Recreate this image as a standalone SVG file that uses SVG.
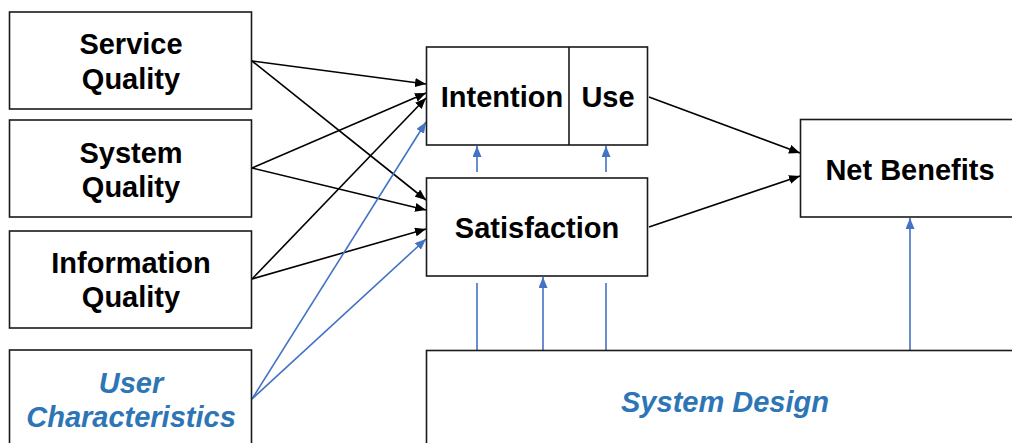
<svg xmlns="http://www.w3.org/2000/svg" width="1012" height="443" viewBox="0 0 1012 443">
<style>
.box{fill:#ffffff;stroke:#1a1a1a;stroke-width:1.6}
.t{font-family:"Liberation Sans",Arial,sans-serif;font-weight:bold;font-size:29px;fill:#000000;text-anchor:middle}
.tb{font-family:"Liberation Sans",Arial,sans-serif;font-weight:bold;font-style:italic;font-size:29px;fill:#2E75B6;text-anchor:middle}
.k{stroke:#000000;stroke-width:1.6;fill:none}
.b{stroke:#4472C4;stroke-width:1.6;fill:none}
</style>
<defs>
<marker id="ak" markerUnits="userSpaceOnUse" markerWidth="11" markerHeight="9" refX="11" refY="4.5" orient="auto">
<path d="M0,0 L11,4.5 L0,9 z" fill="#000000"/>
</marker>
<marker id="ab" markerUnits="userSpaceOnUse" markerWidth="11" markerHeight="9" refX="11" refY="4.5" orient="auto">
<path d="M0,0 L11,4.5 L0,9 z" fill="#4472C4"/>
</marker>
</defs>
<rect width="1012" height="443" fill="#ffffff"/>
<g id="connectors">
<line class="k" x1="252" y1="61" x2="426" y2="84" marker-end="url(#ak)"/>
<line class="k" x1="252" y1="61" x2="426" y2="200" marker-end="url(#ak)"/>
<line class="k" x1="252" y1="168" x2="426" y2="93" marker-end="url(#ak)"/>
<line class="k" x1="252" y1="168" x2="426" y2="210" marker-end="url(#ak)"/>
<line class="k" x1="252" y1="279" x2="426" y2="98" marker-end="url(#ak)"/>
<line class="k" x1="252" y1="279" x2="426" y2="229" marker-end="url(#ak)"/>
<line class="b" x1="252" y1="399" x2="426" y2="122" marker-end="url(#ab)"/>
<line class="b" x1="252" y1="399" x2="426" y2="239" marker-end="url(#ab)"/>
<line class="k" x1="649" y1="97" x2="800" y2="153" marker-end="url(#ak)"/>
<line class="k" x1="649" y1="227" x2="800" y2="176" marker-end="url(#ak)"/>
<line class="b" x1="477" y1="350" x2="477" y2="283"/>
<line class="b" x1="606" y1="350" x2="606" y2="283"/>
<line class="b" x1="477" y1="172" x2="477" y2="146" marker-end="url(#ab)"/>
<line class="b" x1="606" y1="172" x2="606" y2="146" marker-end="url(#ab)"/>
<line class="b" x1="543" y1="350" x2="543" y2="277" marker-end="url(#ab)"/>
<line class="b" x1="910" y1="350" x2="910" y2="218" marker-end="url(#ab)"/>
</g>
<g id="service-quality">
<rect class="box" x="9.5" y="12" width="242" height="97"/>
<text class="t" x="131" y="54">Service</text>
<text class="t" x="131" y="89">Quality</text>
</g>
<g id="system-quality">
<rect class="box" x="9.5" y="120" width="242" height="97"/>
<text class="t" x="131" y="163">System</text>
<text class="t" x="131" y="197">Quality</text>
</g>
<g id="information-quality">
<rect class="box" x="9.5" y="231" width="242" height="97"/>
<text class="t" x="131" y="273">Information</text>
<text class="t" x="131" y="307">Quality</text>
</g>
<g id="user-characteristics">
<rect class="box" x="9.5" y="350" width="242" height="120"/>
<text class="tb" x="131" y="393">User</text>
<text class="tb" x="131" y="427">Characteristics</text>
</g>
<g id="intention-use">
<rect class="box" x="426.5" y="47" width="221" height="98"/>
<line x1="569" y1="47" x2="569" y2="145" stroke="#1a1a1a" stroke-width="1.6"/>
<text class="t" x="502" y="107">Intention</text>
<text class="t" x="608" y="107">Use</text>
</g>
<g id="satisfaction">
<rect class="box" x="426.5" y="178" width="221" height="98"/>
<text class="t" x="537" y="238">Satisfaction</text>
</g>
<g id="net-benefits">
<rect class="box" x="800.5" y="119.5" width="240" height="97.5"/>
<text class="t" x="910" y="180">Net Benefits</text>
</g>
<g id="system-design">
<rect class="box" x="426.5" y="350.5" width="620" height="120"/>
<text class="tb" x="725" y="412">System Design</text>
</g>
</svg>
